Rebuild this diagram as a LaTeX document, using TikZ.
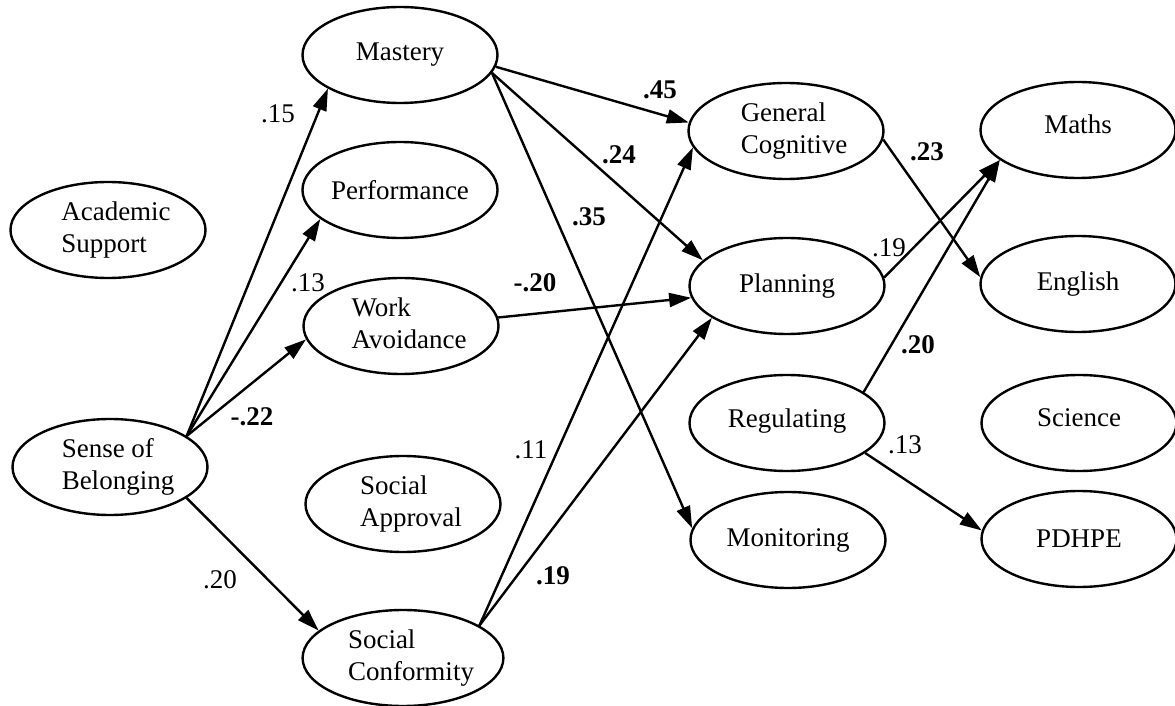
\documentclass[tikz,border=0pt]{standalone}
\usepackage{fontspec}
\setmainfont{Liberation Serif}
\usetikzlibrary{shapes.geometric,arrows.meta}
% two-line construct label, set flush left and nudged right in its ellipse
\newcommand\twoline[2]{\hspace*{8pt}\begin{tabular}{@{}l@{}}#1\\#2\end{tabular}}
\begin{document}
\begin{tikzpicture}[x=0.5pt,y=-0.5pt,
  latent/.style={draw,ellipse,line width=1.2pt,minimum width=97.5pt,minimum height=48pt,
    inner sep=0pt,font=\fontsize{13.5}{16}\selectfont},
  link/.style={line width=1.2pt,-{Triangle[length=11pt,width=7pt]}},
  coef/.style={inner sep=0pt,font=\fontsize{13.5}{16}\selectfont},
  bcoef/.style={inner sep=0pt,font=\fontsize{13.5}{16}\selectfont\bfseries}]
\useasboundingbox (0,0) rectangle (1175,706);

% climate and goal constructs
\node[latent] (acad)  at (108,230) {\twoline{Academic}{Support}};
\node[latent] (sob)   at (110,467) {\twoline{Sense of}{Belonging}};
\node[latent] (mast)  at (400,55)  {Mastery};
\node[latent] (perf)  at (400,190) {Performance};
\node[latent] (wa)    at (401,326) {\twoline{Work}{Avoidance}};
\node[latent] (sapp)  at (403,504) {\twoline{Social}{Approval}};
\node[latent] (sconf) at (403,658) {\twoline{Social}{Conformity}};

% learning strategies
\node[latent] (gc)    at (786,131) {\twoline{General}{Cognitive}};
\node[latent] (plan)  at (787,286) {Planning};
\node[latent] (reg)   at (787,423) {\raisebox{4.5pt}{Regulating}};
\node[latent] (mon)   at (788,540) {Monitoring};

% achievement
\node[latent] (maths) at (1078,130) {\raisebox{5.5pt}{Maths}};
\node[latent] (eng)   at (1078,284) {English};
\node[latent] (sci)   at (1079,423) {\raisebox{5.5pt}{Science}};
\node[latent] (pdhpe) at (1079,539) {PDHPE};

% paths
\draw[link] (sob.22)    -- (mast.205);
\draw[link] (sob.22)    -- (perf.200);
\draw[link] (sob.22)    -- (wa.188);
\draw[link] (sob.-22)   -- (sconf.162);
\draw[link] (mast.-7)   -- (gc.175);
\draw[link] (mast.-11)  -- (plan.163);
\draw[link] (mast.-11)  -- (mon.173);
\draw[link] (wa.5)      -- (plan.187);
\draw[link] (sconf.23)  -- (gc.190);
\draw[link] (sconf.23)  -- (plan.203);
\draw[link] (gc.-5)     -- (eng.176);
\draw[link] (plan.5)    -- (maths.201);
\draw[link] (reg.22)    -- (maths.201);
\draw[link] (reg.-21)   -- (pdhpe.175);

% path coefficients
\node[coef]  (c1)  at (278,114) {.15};
\node[coef]  (c2)  at (308,283) {.13};
\node[bcoef] (c3)  at (252,417) {-.22};
\node[coef]  (c4)  at (220,580) {.20};
\node[bcoef] (c5)  at (660,90)  {.45};
\node[bcoef] (c6)  at (619,155) {.24};
\node[bcoef] (c7)  at (589,217) {.35};
\node[bcoef] (c8)  at (535,283) {-.20};
\node[coef]  (c9)  at (531,450) {.11};
\node[bcoef] (c10) at (553,576) {.19};
\node[bcoef] (c11) at (927,152) {.23};
\node[coef]  (c12) at (889,248) {.19};
\node[bcoef] (c13) at (918,345) {.20};
\node[coef]  (c14) at (905,445) {.13};
\end{tikzpicture}
\end{document}
